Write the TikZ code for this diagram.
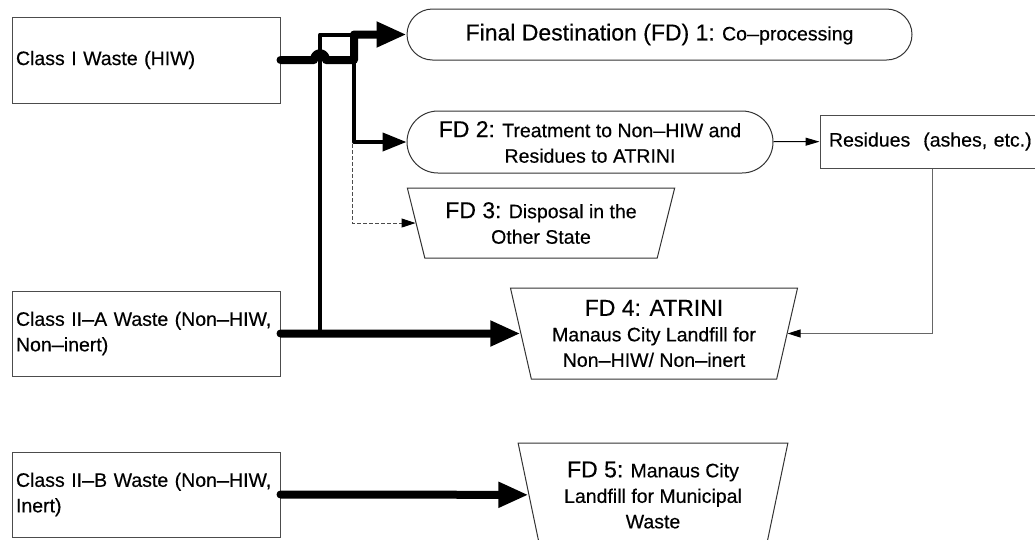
\documentclass[tikz,border=0pt]{standalone}
\usepackage{fontspec}
% regular outlines, slightly thickened, serve as the bold face
\setmainfont{Liberation Sans}[BoldFont={Liberation Sans}, BoldFeatures={FakeBold=0.4}]
\usepackage{graphicx}
\usetikzlibrary{arrows.meta,shapes.geometric}
% long joining dash used in the labels
\newcommand{\ldash}{\scalebox{0.62}[1]{—}}
% larger face for the "FD n:" headings
\newcommand{\fdhead}[1]{{\fontsize{23}{27}\selectfont #1}}

\begin{document}
\begin{tikzpicture}[x=1pt,y=-1pt,
  every node/.style={font=\fontsize{19.5}{25.5}\selectfont\bfseries, inner sep=0pt},
  srcbox/.style={draw=black!70, line width=1pt, minimum width=268pt,
                 text width=260pt, align=left, inner sep=4pt},
  resbox/.style={draw=black!70, line width=1pt, minimum width=225pt, minimum height=53pt,
                 text width=207pt, align=left, inner sep=9pt},
  pill/.style={draw=black!80, line width=1pt, align=center},
  bin/.style={draw=black!80, line width=1pt, align=center, trapezium,
              shape border rotate=180, trapezium stretches=true},
  heavy/.style={line width=8pt, line cap=round, line join=round,
                -{Triangle[length=30pt,width=24pt]}},
  medium/.style={line width=4pt, line join=round},
  thinarrow/.style={draw=black, line width=1pt, -{Triangle[length=14pt,width=8pt]}},
  greyarrow/.style={draw=black!60, line width=1pt, -{Triangle[length=13pt,width=8pt,color=black]}},
  dasharrow/.style={draw=black!70, line width=1pt, dash pattern=on 4pt off 2pt,
                    -{Triangle[length=14pt,width=9pt,color=black]}}
]
\useasboundingbox (0,0) rectangle (1035,539);

% waste classes
\node[srcbox, minimum height=86pt] (c1)  at (146,60)    {Class I Waste (HIW)};
\node[srcbox, minimum height=85pt] (c2a) at (146,333.5) {Class II\ldash A Waste (Non\ldash HIW,\\Non\ldash inert)};
\node[srcbox, minimum height=85pt] (c2b) at (146,494.5) {Class II\ldash B Waste (Non\ldash HIW,\\Inert)};

% final destinations
\node[pill, minimum width=505pt, minimum height=51pt, rounded corners=25.5pt] (fd1) at (659.5,34.5)
  {\fdhead{Final Destination (FD) 1:} Co\ldash processing};
\node[pill, minimum width=366pt, minimum height=62pt, rounded corners=31pt] (fd2) at (590,142)
  {\fdhead{FD 2:} Treatment to Non\ldash HIW and\\Residues to ATRINI};
\node[resbox] (res) at (932.5,141.5) {Residues\ \ (ashes, etc.)};
\node[bin, trapezium angle=71, minimum width=268pt, minimum height=70pt] (fd3) at (541,223)
  {\fdhead{FD 3:} Disposal in the\\Other State};
\node[bin, trapezium angle=75.5, minimum width=288pt, minimum height=91pt] (fd4) at (654,333.5)
  {\fdhead{FD 4: ATRINI}\\Manaus City Landfill for\\Non\ldash HIW/ Non\ldash inert};
\node[bin, trapezium angle=75.7, minimum width=270pt, minimum height=104pt] (fd5) at (653,495)
  {\fdhead{FD 5:} Manaus City\\Landfill for Municipal\\Waste};

% junctions of the collecting lines
\coordinate (hopL) at (314,60);
\coordinate (hopR) at (326,60);
\coordinate (riseTop) at (354,60);
\coordinate (topBend) at (354,34.5);
\coordinate (feedBot) at (320,333.5);
\coordinate (feedTop) at (320,34.5);
\coordinate (fd2Bend) at (354,142);
\coordinate (dashTop) at (352,144);

% Class II-A feed up to co-processing
\draw[medium] (feedBot) -- (feedTop) -- (topBend);
% Class II-A to FD 4
\draw[heavy] (c2a.east) -- (fd4);
% branch to FD 2
\draw[medium, -{Triangle[length=24pt,width=18pt]}] (riseTop) -- (fd2Bend) -- (fd2);
% Class I to FD 1, hopping over the feed line
\draw[heavy] (c1.east) -- (hopL) .. controls (314,51) and (326,51) .. (hopR)
  -- (riseTop) -- (topBend) -- (fd1);
% optional route to FD 3
\draw[dasharrow] (dashTop) |- (fd3);
% residues
\draw[thinarrow] (fd2) -- (res);
\draw[greyarrow] (res.south) |- (fd4);
% Class II-B to FD 5
\draw[heavy] (c2b.east) -- (fd5);
\end{tikzpicture}
\end{document}
